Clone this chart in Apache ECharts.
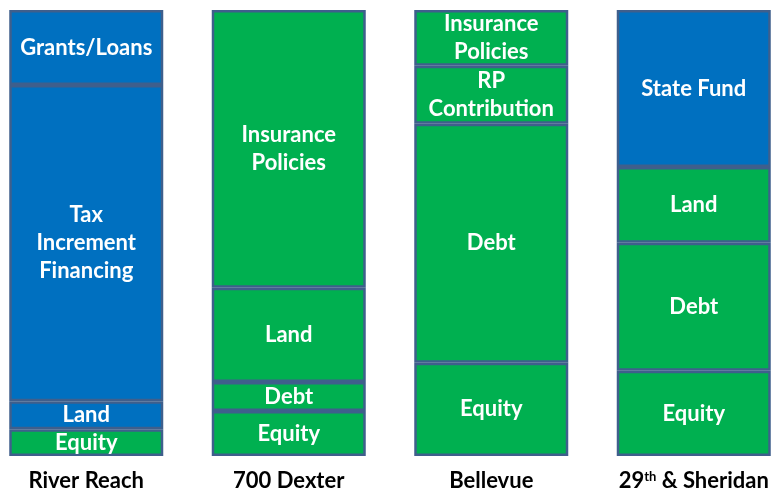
<!DOCTYPE html>
<html>
<head>
<meta charset="utf-8">
<script src="https://cdn.jsdelivr.net/npm/echarts@6/dist/echarts.min.js"></script>
<style>
  html, body { margin: 0; padding: 0; background: #fff; overflow: hidden; }
  #chart { position: absolute; left: -15px; top: 0; width: 810px; height: 493px; }
</style>
</head>
<body>
<div id="chart"></div>
<script>
  // projects along the bottom
  var projects = ['River Reach', '700 Dexter', 'Bellevue', '29th & Sheridan'];

  // each stack level, bottom to top: share of the total (%), label, source (public / private)
  var level1Values = [6.0, 10.1, 20.9, 19.1];
  var level1Names = ['Equity', 'Equity', 'Equity', 'Equity'];
  var level1Source = ['private', 'private', 'private', 'private'];

  var level2Values = [6.3, 6.5, 53.6, 28.7];
  var level2Names = ['Land', 'Debt', 'Debt', 'Debt'];
  var level2Source = ['public', 'private', 'private', 'private'];

  var level3Values = [70.9, 21.1, 13.0, 17.0];
  var level3Names = ['Tax\nIncrement\nFinancing', 'Land', 'RP\nContribution', 'Land'];
  var level3Source = ['public', 'private', 'private', 'private'];

  var level4Values = [16.8, 62.3, 12.5, 35.2];
  var level4Names = ['Grants/Loans', 'Insurance\nPolicies', 'Insurance\nPolicies', 'State Fund'];
  var level4Source = ['public', 'private', 'private', 'public'];

  var sourceColor = { 'public': '#0070C0', 'private': '#00B050' };

  var levels = [
    [level1Values, level1Names, level1Source],
    [level2Values, level2Names, level2Source],
    [level3Values, level3Names, level3Source],
    [level4Values, level4Names, level4Source]
  ];

  var series = levels.map(function (lv, i) {
    return {
      name: 'level' + (i + 1),
      type: 'bar',
      stack: 'total',
      barWidth: 154,
      data: lv[0].map(function (v, j) {
        return {
          value: v,
          name: lv[1][j],
          itemStyle: { color: sourceColor[lv[2][j]] }
        };
      }),
      itemStyle: { borderColor: '#3F5F8C', borderWidth: 2.5 },
      label: {
        show: true,
        position: 'inside',
        formatter: function (p) { return p.data.name; },
        color: '#fff',
        fontFamily: 'Lato',
        fontWeight: 'bold',
        fontSize: 22,
        lineHeight: 28
      }
    };
  });

  var chart = echarts.init(document.getElementById('chart'));
  chart.setOption({
    animation: false,
    grid: { left: 0, right: 0, top: 10, bottom: 37 },
    xAxis: {
      type: 'category',
      data: projects,
      axisLine: { show: false },
      axisTick: { show: false },
      axisLabel: {
        interval: 0,
        margin: 14,
        color: '#000',
        fontFamily: 'Lato',
        fontWeight: 'bold',
        fontSize: 22,
        formatter: function (v) {
          if (v.indexOf('29th') === 0) return '29{sup|th}' + v.slice(4);
          return v;
        },
        rich: {
          sup: { fontSize: 13, fontWeight: 'bold', fontFamily: 'Lato', color: '#000', padding: [0, 0, 8, 0] }
        }
      }
    },
    yAxis: { type: 'value', min: 0, max: 100, show: false },
    series: series
  });
</script>
</body>
</html>
